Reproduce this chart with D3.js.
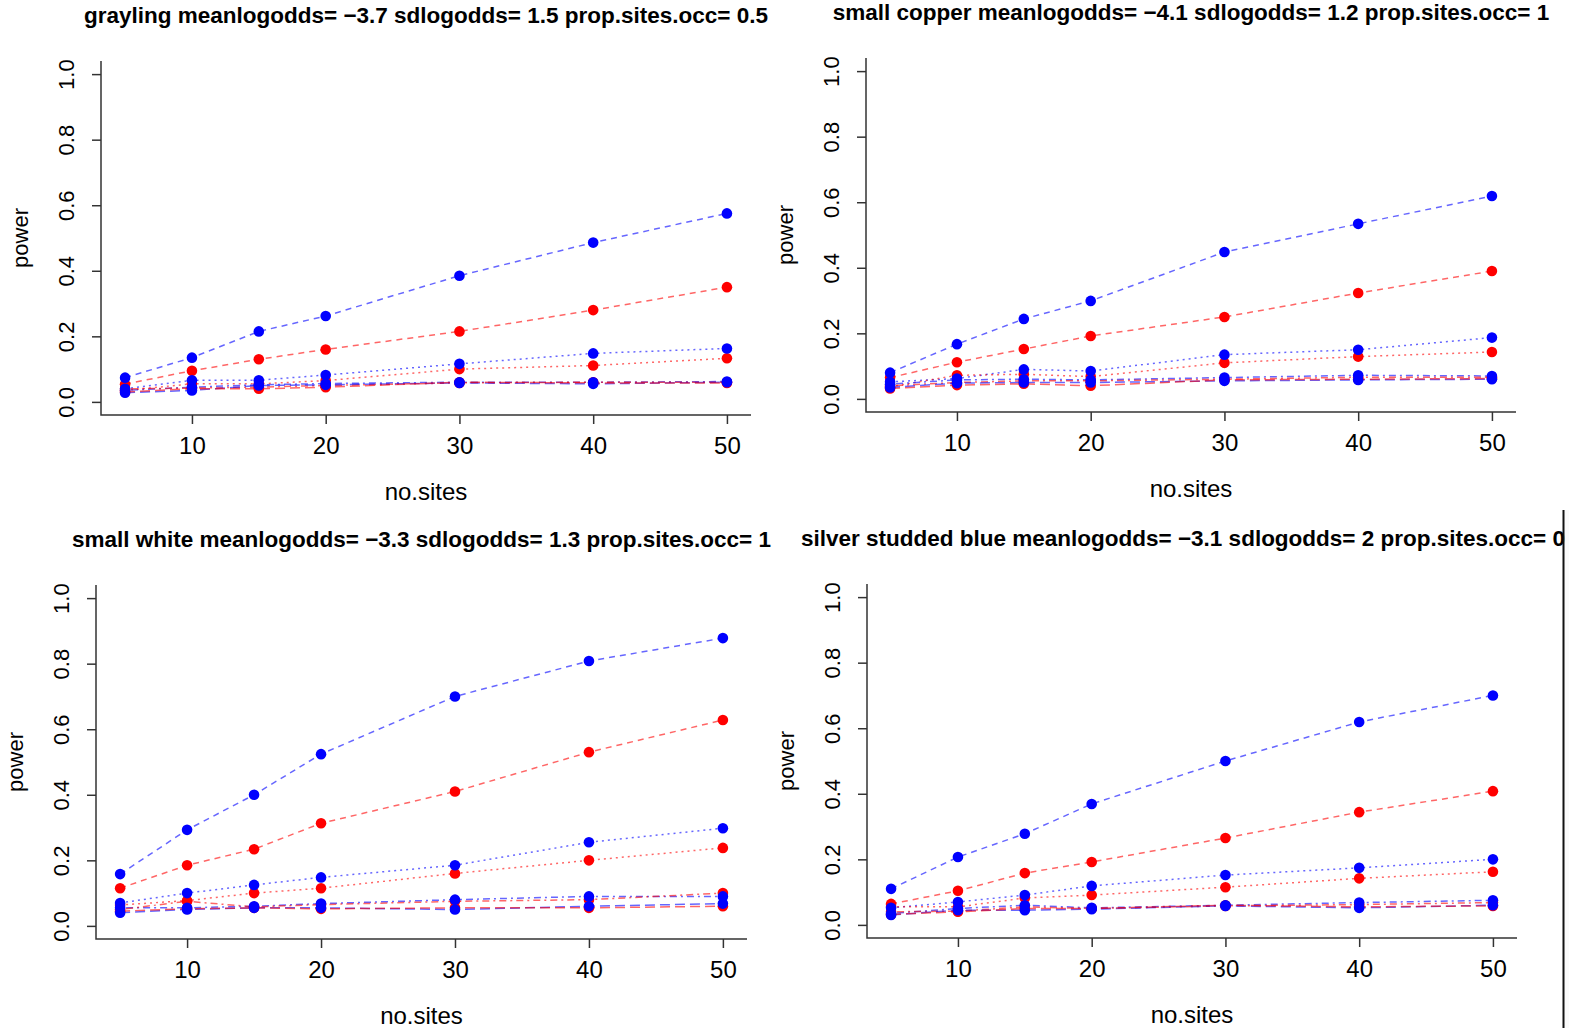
<!DOCTYPE html>
<html>
<head>
<meta charset="utf-8">
<script src="https://cdn.jsdelivr.net/npm/d3@7"></script>
<style>
  html, body { margin: 0; padding: 0; background: #ffffff; }
  svg { display: block; }
  text { font-family: "Liberation Sans", Arial, sans-serif; fill: #000; }
</style>
</head>
<body>
<svg id="chart" width="1569" height="1028"></svg>
<script>
// Number of survey sites (x values shared by every panel)
const noSites = [5, 10, 15, 20, 30, 40, 50];
const xTicks = [10, 20, 30, 40, 50];
const yTicks = [0, 0.2, 0.4, 0.6, 0.8, 1.0];

const panelTitles = [
  "grayling meanlogodds= \u22123.7 sdlogodds= 1.5 prop.sites.occ= 0.5",
  "small copper meanlogodds= \u22124.1 sdlogodds= 1.2 prop.sites.occ= 1",
  "small white meanlogodds= \u22123.3 sdlogodds= 1.3 prop.sites.occ= 1",
  "silver studded blue meanlogodds= \u22123.1 sdlogodds= 2 prop.sites.occ= 0"
];

// Estimated power, one row per scenario:
// blue dashed, red dashed, blue dotted, red dotted,
// blue dot-dash, red dot-dash, blue long-dash, red long-dash
const graylingPower = [
  [0.074, 0.135, 0.215, 0.262, 0.385, 0.486, 0.575],
  [0.054, 0.095, 0.130, 0.160, 0.215, 0.280, 0.350],
  [0.040, 0.066, 0.066, 0.082, 0.116, 0.148, 0.163],
  [0.035, 0.055, 0.055, 0.065, 0.100, 0.111, 0.133],
  [0.035, 0.045, 0.052, 0.056, 0.060, 0.060, 0.062],
  [0.040, 0.042, 0.045, 0.050, 0.058, 0.060, 0.060],
  [0.028, 0.035, 0.050, 0.052, 0.058, 0.055, 0.060],
  [0.030, 0.040, 0.040, 0.045, 0.060, 0.058, 0.058]
];

const smallCopperPower = [
  [0.080, 0.167, 0.244, 0.299, 0.448, 0.534, 0.619],
  [0.065, 0.112, 0.152, 0.192, 0.250, 0.323, 0.390],
  [0.052, 0.062, 0.090, 0.085, 0.135, 0.150, 0.187],
  [0.037, 0.072, 0.075, 0.068, 0.110, 0.129, 0.143],
  [0.045, 0.058, 0.060, 0.058, 0.065, 0.072, 0.070],
  [0.040, 0.050, 0.055, 0.055, 0.060, 0.066, 0.066],
  [0.035, 0.048, 0.050, 0.050, 0.055, 0.058, 0.060],
  [0.032, 0.042, 0.046, 0.040, 0.058, 0.060, 0.062]
];

const smallWhitePower = [
  [0.158, 0.293, 0.400, 0.524, 0.700, 0.808, 0.878],
  [0.115, 0.185, 0.234, 0.313, 0.410, 0.530, 0.628],
  [0.070, 0.100, 0.125, 0.148, 0.185, 0.255, 0.298],
  [0.064, 0.077, 0.100, 0.115, 0.160, 0.200, 0.238],
  [0.055, 0.055, 0.060, 0.068, 0.080, 0.090, 0.090],
  [0.050, 0.075, 0.058, 0.065, 0.075, 0.080, 0.100],
  [0.040, 0.050, 0.055, 0.055, 0.050, 0.060, 0.068],
  [0.045, 0.052, 0.055, 0.052, 0.055, 0.055, 0.060]
];

const silverStuddedBluePower = [
  [0.110, 0.207, 0.278, 0.369, 0.500, 0.619, 0.700],
  [0.064, 0.104, 0.158, 0.192, 0.265, 0.344, 0.408],
  [0.052, 0.070, 0.091, 0.119, 0.152, 0.174, 0.200],
  [0.055, 0.055, 0.082, 0.091, 0.115, 0.142, 0.162],
  [0.035, 0.050, 0.060, 0.052, 0.060, 0.068, 0.075],
  [0.040, 0.042, 0.055, 0.050, 0.058, 0.062, 0.068],
  [0.030, 0.045, 0.045, 0.048, 0.058, 0.052, 0.060],
  [0.032, 0.040, 0.050, 0.050, 0.060, 0.055, 0.058]
];

const panelData = [graylingPower, smallCopperPower, smallWhitePower, silverStuddedBluePower];

// Line styles for the eight scenarios
const seriesColor = ["#0000ff", "#ff0000", "#0000ff", "#ff0000", "#0000ff", "#ff0000", "#0000ff", "#ff0000"];
const seriesDash = ["6,5", "6,5", "2,4", "2,4", "2,4,7,4", "2,4,7,4", "10,5", "10,5"];

// Plot regions (pixel frame of each panel); titleStart left-aligns a title instead of centring it
const frames = [
  { left: 101, right: 751, top: 61, bottom: 415, titleStart: null, edgeLine: null },
  { left: 866, right: 1516, top: 58, bottom: 412, titleStart: null, edgeLine: null },
  { left: 96, right: 747, top: 585, bottom: 939, titleStart: null, edgeLine: null },
  { left: 867, right: 1517, top: 584, bottom: 938, titleStart: 801, edgeLine: 1563 }
];

const FONT = '"Liberation Sans", Arial, sans-serif';
const svg = d3.select("#chart");
svg.append("rect").attr("width", 1569).attr("height", 1028).attr("fill", "#ffffff");

// Strip to the right of the framed lower-right panel
svg.append("rect").attr("x", 1564).attr("y", 510).attr("width", 5).attr("height", 518).attr("fill", "#fafafa");

frames.forEach((f, i) => {
  const x = d3.scaleLinear().domain([3.2, 51.8]).range([f.left, f.right]);
  const y = d3.scaleLinear().domain([-0.04, 1.04]).range([f.bottom, f.top]);
  const g = svg.append("g");
  const cx = (f.left + f.right) / 2;
  const cy = (f.top + f.bottom) / 2;

  // bottom axis
  const xa = g.append("g").attr("transform", `translate(0,${f.bottom})`)
    .call(d3.axisBottom(x).tickValues(xTicks).tickSize(9).tickSizeOuter(0));
  xa.select(".domain").remove();
  xa.selectAll(".tick line").attr("stroke", "#333").attr("stroke-width", 1.5);
  xa.selectAll(".tick text").attr("font-size", 24).attr("dy", 0).attr("y", 39)
    .style("font-family", FONT);

  // left axis with rotated labels
  const ya = g.append("g").attr("transform", `translate(${f.left},0)`)
    .call(d3.axisLeft(y).tickValues(yTicks).tickSize(9).tickSizeOuter(0).tickFormat(d3.format(".1f")));
  ya.select(".domain").remove();
  ya.selectAll(".tick line").attr("stroke", "#333").attr("stroke-width", 1.5);
  ya.selectAll(".tick text")
    .attr("x", null).attr("dy", null)
    .attr("text-anchor", "middle")
    .attr("font-size", 22)
    .attr("transform", "translate(-27,0) rotate(-90)")
    .style("font-family", FONT);

  // L-shaped frame
  g.append("path")
    .attr("d", `M${f.left},${f.top}V${f.bottom}H${f.right}`)
    .attr("fill", "none").attr("stroke", "#333").attr("stroke-width", 1.5);

  // axis titles
  g.append("text").attr("x", cx).attr("y", f.bottom + 85)
    .attr("text-anchor", "middle").attr("font-size", 24).text("no.sites");
  g.append("text")
    .attr("transform", `translate(${f.left - 73},${cy}) rotate(-90)`)
    .attr("text-anchor", "middle").attr("font-size", 22).text("power");

  // main title
  g.append("text")
    .attr("x", f.titleStart ? f.titleStart : cx)
    .attr("y", f.top - 38)
    .attr("text-anchor", f.titleStart ? "start" : "middle")
    .attr("font-size", 22.5).attr("font-weight", "bold")
    .text(panelTitles[i]);

  const rows = panelData[i];
  const line = d3.line().x((d, k) => x(noSites[k])).y(d => y(d));

  // lines
  rows.forEach((row, s) => {
    g.append("path").datum(row)
      .attr("d", line)
      .attr("fill", "none")
      .attr("stroke", seriesColor[s])
      .attr("stroke-opacity", 0.6)
      .attr("stroke-width", 1.5)
      .attr("stroke-dasharray", seriesDash[s]);
  });

  // points: red scenarios first, blue on top
  [7, 5, 3, 1, 6, 4, 2, 0].forEach(s => {
    g.append("g").selectAll("circle").data(rows[s]).join("circle")
      .attr("cx", (d, k) => x(noSites[k]))
      .attr("cy", d => y(d))
      .attr("r", 5.3)
      .attr("fill", seriesColor[s]);
  });

  if (f.edgeLine) {
    svg.append("line").attr("x1", f.edgeLine + 0.5).attr("x2", f.edgeLine + 0.5)
      .attr("y1", 510).attr("y2", 1028).attr("stroke", "#111").attr("stroke-width", 2);
  }
});
</script>
</body>
</html>
